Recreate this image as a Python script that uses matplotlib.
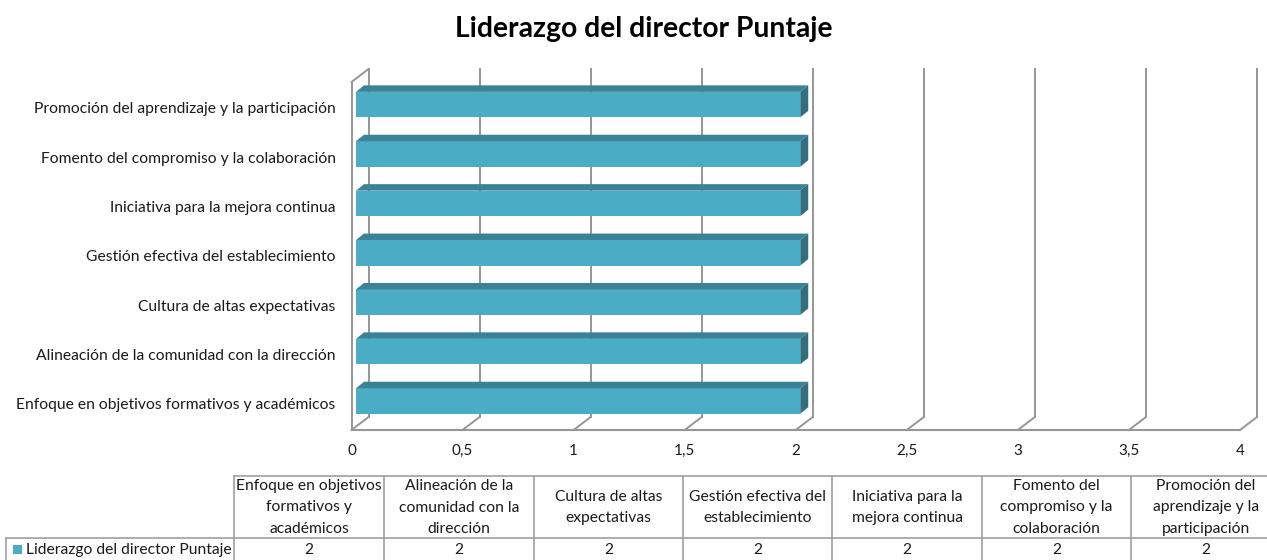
import matplotlib
matplotlib.use('Agg')
import matplotlib.pyplot as plt
from matplotlib.patches import Polygon
from matplotlib.lines import Line2D
from matplotlib.transforms import ScaledTranslation

plt.rcParams['font.family'] = ['Lato', 'DejaVu Sans']

# Data
categories = ['Enfoque en objetivos formativos y académicos',
              'Alineación de la comunidad con la dirección',
              'Cultura de altas expectativas',
              'Gestión efectiva del establecimiento',
              'Iniciativa para la mejora continua',
              'Fomento del compromiso y la colaboración',
              'Promoción del aprendizaje y la participación']
table_labels = ['Enfoque en objetivos\nformativos y\nacadémicos',
                'Alineación de la\ncomunidad con la\ndirección',
                'Cultura de altas\nexpectativas',
                'Gestión efectiva del\nestablecimiento',
                'Iniciativa para la\nmejora continua',
                'Fomento del\ncompromiso y la\ncolaboración',
                'Promoción del\naprendizaje y la\nparticipación']
values = [2, 2, 2, 2, 2, 2, 2]
x_ticks = [0, 0.5, 1, 1.5, 2, 2.5, 3, 3.5, 4]
x_tick_labels = ['0', '0,5', '1', '1,5', '2', '2,5', '3', '3,5', '4']
series_name = 'Liderazgo del director Puntaje'

W, H = 1267, 560
FRONT = '#4BACC6'
TOP = '#3B8297'
SIDE = '#316F80'
GRID = '#969696'
TABLE = '#A0A0A0'
TEXT = '#1A1A1A'

fig = plt.figure(figsize=(W / 100, H / 100), dpi=100)

# axes box in pixels: value 0..4 -> 351.5..1240, floor at y=430, top of left wall y=82
left, right, floor, top = 351.5, 1240, 430, 82
ax = fig.add_axes([left / W, 1 - floor / H, (right - left) / W, (floor - top) / H])
ax.set_xlim(0, 4)
sp = 49.4  # px per category
ax.set_ylim(-(floor - 401) / sp, (401 - top) / sp)
for s in ax.spines.values():
    s.set_visible(False)

ux = (right - left) / 4
dx_back, dy_back = 17 / ux, 13 / sp   # depth of the chart box
dx_bar, dy_bar = 8 / ux, 6.5 / sp     # depth of each bar
bar_x0 = 4.5 / ux
y0, y1 = ax.get_ylim()

# walls and gridlines
for t in x_ticks:
    ax.plot([t + dx_back] * 2, [y0 + dy_back, y1 + dy_back], color=GRID, lw=1.4, clip_on=False, zorder=1)
    ax.plot([t, t + dx_back], [y0, y0 + dy_back], color=GRID, lw=1.4, clip_on=False, zorder=1)
ax.plot([0, 0], [y0, y1], color=GRID, lw=1.4, clip_on=False, zorder=1)
ax.plot([0, dx_back], [y1, y1 + dy_back], color=GRID, lw=1.4, clip_on=False, zorder=1)
ax.plot([0, 4], [y0, y0], color=GRID, lw=1.5, clip_on=False, zorder=1)

# 3d bars
h = 25.5 / sp
for i, v in enumerate(values):
    b = i - h / 2
    e = bar_x0 + v
    ax.barh(i, v, height=h, left=bar_x0, color=FRONT, edgecolor='none', zorder=3, clip_on=False)
    ax.add_patch(Polygon([(bar_x0, b + h), (e, b + h), (e + dx_bar, b + h + dy_bar),
                          (bar_x0 + dx_bar, b + h + dy_bar)], color=TOP, lw=0, zorder=3, clip_on=False))
    ax.add_patch(Polygon([(e, b), (e + dx_bar, b + dy_bar), (e + dx_bar, b + h + dy_bar),
                          (e, b + h)], color=SIDE, lw=0, zorder=3, clip_on=False))

ax.set_xticks(x_ticks)
ax.set_xticklabels(x_tick_labels, fontsize=11, color=TEXT)
ax.set_yticks(range(len(categories)))
ax.set_yticklabels(categories, fontsize=11.25, color=TEXT)
ax.tick_params(length=0)
ax.tick_params(axis='x', pad=10)
ax.tick_params(axis='y', pad=11.5)
# category labels sit a little below the bar centres
down = ScaledTranslation(0, -3 / 100, fig.dpi_scale_trans)
for lab in ax.get_yticklabels():
    lab.set_transform(lab.get_transform() + down)

fig.text(644 / W, 1 - 29 / H, series_name, ha='center', va='center',
         fontsize=20.3, fontweight='bold', color='black')

# data table under the chart (last column runs past the edge of the image)
col_x = [234, 384, 534, 683, 832, 982, 1131, 1281]


def line(xs, ys):
    fig.add_artist(Line2D([x / W for x in xs], [1 - y / H for y in ys], color=TABLE, lw=1.2))


line([234, 1267], [476, 476])
line([6, 1267], [538, 538])
line([6, 6], [538, 560])
for x in col_x[:-1]:
    line([x, x], [476, 560])

for i, lab in enumerate(table_labels):
    cx = (col_x[i] + col_x[i + 1]) / 2
    fig.text(cx / W, 1 - 507.5 / H, lab, ha='center', va='center', fontsize=11.25, color=TEXT, linespacing=1.65)
    fig.text(cx / W, 1 - 550 / H, str(values[i]), ha='center', va='center', fontsize=11.25, color=TEXT)

fig.patches.append(plt.Rectangle((13 / W, 1 - 554 / H), 9 / W, 9 / H, transform=fig.transFigure, color=FRONT, lw=0))
fig.text(26 / W, 1 - 550 / H, series_name, ha='left', va='center', fontsize=11.25, color=TEXT)

fig.savefig('out.png', dpi=100)
